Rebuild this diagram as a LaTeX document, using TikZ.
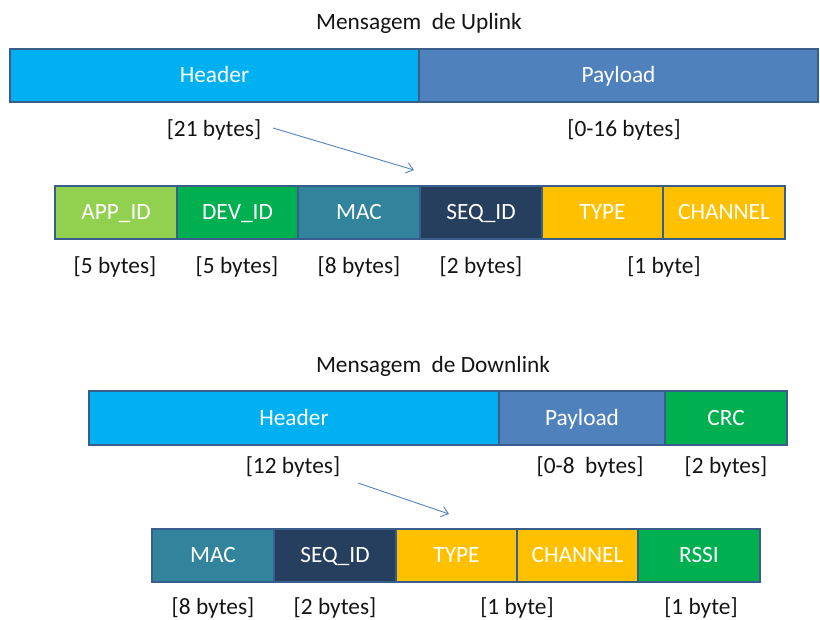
\documentclass[tikz,border=0pt]{standalone}
\usepackage{fontspec}
\setmainfont{Carlito}
\usetikzlibrary{fit,arrows.meta}

\definecolor{edge}{HTML}{3A5E8C}
\definecolor{hdrblue}{HTML}{00B0F0}
\definecolor{payblue}{HTML}{4F81BD}
\definecolor{lgreen}{HTML}{92D050}
\definecolor{dgreen}{HTML}{00B050}
\definecolor{teal}{HTML}{31849B}
\definecolor{navy}{HTML}{263F5F}
\definecolor{amber}{HTML}{FFC000}
\definecolor{arrowblue}{HTML}{5A86C0}

\begin{document}
\begin{tikzpicture}[x=0.75pt,y=-0.75pt,
  txt/.style={font=\fontsize{17.5}{21}\selectfont},
  % capital letters centred on the anchor, whatever the descenders
  capbox/.style={text height=11.2pt, text depth=0pt},
  % a coloured field: the box fits its two corners, the name sits in its middle
  field/.style 2 args={draw=edge, line width=1.5pt, inner sep=0pt, fill=#1,
                label={[txt, capbox, text=white, inner sep=0pt, anchor=center]center:#2}},
  size/.style={txt, text=black!92, inner sep=0pt},
  title/.style={txt, capbox, text=black!92, inner sep=0pt},
  pointer/.style={draw=arrowblue, line width=0.7pt, -{Straight Barb[length=5pt,width=8pt]}}]
\useasboundingbox (0,0) rectangle (820,619);

% ---------- Uplink ----------
\node[title] (uptitle) at (419,22) {Mensagem~~de Uplink};

\node[field={hdrblue}{Header},  fit={(10,49) (419,102)}] (uhdr) {};
\node[field={payblue}{Payload}, fit={(419,49) (818,102)}] (upay) {};

\node[size] (uhdrsz) at (214,130) {[21 bytes]};
\node[size] (upaysz) at (624,130) {[0-16 bytes]};

\node[field={lgreen}{APP\_ID},  fit={(55,186) (177,239)}] (uapp) {};
\node[field={dgreen}{DEV\_ID},  fit={(177,186) (298,239)}] (udev) {};
\node[field={teal}{MAC},        fit={(298,186) (420,239)}] (umac) {};
\node[field={navy}{SEQ\_ID},    fit={(420,186) (542,239)}] (useq) {};
\node[field={amber}{TYPE},      fit={(542,186) (663,239)}] (utype) {};
\node[field={amber}{CHANNEL},   fit={(663,186) (785,239)}] (uchan) {};

\node[size] at (115,267) {[5 bytes]};
\node[size] at (237,267) {[5 bytes]};
\node[size] at (359,267) {[8 bytes]};
\node[size] at (481,267) {[2 bytes]};
\node[size] at (664,267) {[1 byte]};

\coordinate (uarrowA) at (273,128);
\coordinate (uarrowB) at (414,170);
\draw[pointer] (uarrowA) -- (uarrowB);

% ---------- Downlink ----------
\node[title] (dntitle) at (433,365) {Mensagem~~de Downlink};

\node[field={hdrblue}{Header},  fit={(89,391) (499,445)}] (dhdr) {};
\node[field={payblue}{Payload}, fit={(499,391) (665,445)}] (dpay) {};
\node[field={dgreen}{CRC},      fit={(665,391) (787,445)}] (dcrc) {};

\node[size] (dhdrsz) at (293,467) {[12 bytes]};
\node[size] at (590,467) {[0-8~~bytes]};
\node[size] at (726,467) {[2 bytes]};

\node[field={teal}{MAC},        fit={(152,529) (274,582)}] (dmac) {};
\node[field={navy}{SEQ\_ID},    fit={(274,529) (396,582)}] (dseq) {};
\node[field={amber}{TYPE},      fit={(396,529) (517,582)}] (dtype) {};
\node[field={amber}{CHANNEL},   fit={(517,529) (638,582)}] (dchan) {};
\node[field={dgreen}{RSSI},     fit={(638,529) (760,582)}] (drssi) {};

\node[size] at (213,608) {[8 bytes]};
\node[size] at (335,608) {[2 bytes]};
\node[size] at (517,608) {[1 byte]};
\node[size] at (701,608) {[1 byte]};

\coordinate (darrowA) at (358,483);
\coordinate (darrowB) at (449,514);
\draw[pointer] (darrowA) -- (darrowB);
\end{tikzpicture}
\end{document}
